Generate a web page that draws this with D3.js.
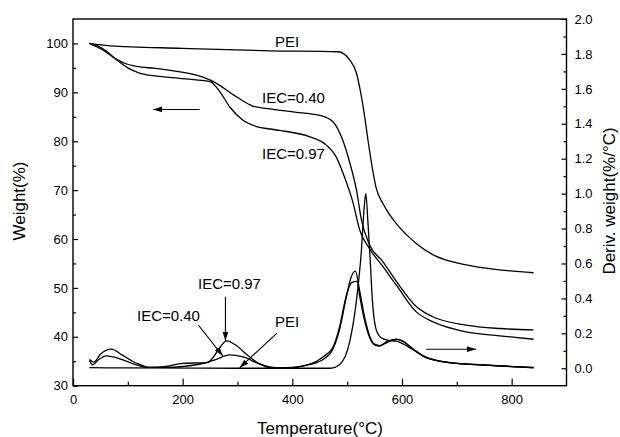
<!DOCTYPE html>
<html lang="en">
<head>
<meta charset="UTF-8">
<title>TGA / DTG</title>
<script src="https://cdn.jsdelivr.net/npm/d3@7/dist/d3.min.js"></script>
<style>
  body { margin: 0; background: #fff; }
  svg { display: block; font-family: "Liberation Sans", Arial, sans-serif; }
  .axis path { display: none; }
  .axis line { stroke: #000; stroke-width: 1.2; }
  .axis text { font-size: 13px; fill: #000; }
  .frame { fill: none; stroke: #000; stroke-width: 1.4; }
  .curve { fill: none; stroke: #000; stroke-width: 1.3; }
  .note { font-size: 15px; fill: #000; }
  .title { font-size: 17px; fill: #000; }
  .arrow { stroke: #000; stroke-width: 1.1; }
</style>
</head>
<body>
<svg id="chart" width="620" height="437"></svg>
<script>
  // ticks
  const xTicks = [0, 200, 400, 600, 800]
  const xMinor = [100, 300, 500, 700]
  const wTicks = [30, 40, 50, 60, 70, 80, 90, 100]
  const wMinor = [35, 45, 55, 65, 75, 85, 95]
  const dTicks = [0, 0.2, 0.4, 0.6, 0.8, 1.0, 1.2, 1.4, 1.6, 1.8, 2.0]
  const dMinor = [0.1, 0.3, 0.5, 0.7, 0.9, 1.1, 1.3, 1.5, 1.7, 1.9]

  // weight curves (temperature, weight %)
  const tgaPEI = [[30,100],[67,99.5],[200,99.0],[359,98.5],[483,98.3],[505,96.6],[517,93.9],[526,89.1],
    [532,85.0],[538,80.2],[547,73.8],[553,70.4],[565,67.3],[575,65.4],[590,63.1],[610,60.7],[626,59.1],
    [656,56.8],[717,54.7],[778,53.7],[840,53.1]]
  const tga040 = [[30,100],[55,98.6],[75,97.1],[95,95.9],[116,95.3],[150,94.9],[177,94.5],[225,93.5],
    [256,92.2],[298,89.1],[328,87.2],[359,86.6],[401,86.0],[450,85.3],[474,84.0],[492,80.2],[505,75.5],
    [517,70.0],[526,63.9],[541,58.8],[565,55.4],[590,51.3],[626,46.2],[656,44.1],[717,42.4],[778,41.7],
    [840,41.4]]
  const tga097 = [[30,100],[45,99.5],[60,98.5],[80,96.6],[100,95.0],[120,94.0],[146,93.4],[180,93.0],
    [220,92.6],[250,92.2],[268,90.1],[286,87.0],[310,84.3],[335,83.0],[359,82.5],[377,82.2],[432,80.9],
    [462,79.2],[480,76.8],[495,72.7],[511,67.3],[523,61.8],[541,58.0],[565,54.4],[590,50.5],[626,45.1],
    [656,43.1],[717,41.0],[778,40.2],[840,39.5]]

  // derivative curves (temperature, %/°C)
  const dtgPEI = [[30,0.003],[100,0.002],[300,0.0],[470,0.0],[486,0.02],[505,0.157],[517,0.39],[526,0.675],
    [531,0.92],[534,1.0],[538,0.83],[542,0.62],[546,0.39],[553,0.22],[562,0.175],[575,0.16],[590,0.155],
    [610,0.125],[640,0.07],[680,0.035],[750,0.018],[840,0.005]]
  const dtg040 = [[30,0.045],[36,0.02],[45,0.045],[61,0.071],[80,0.06],[110,0.025],[140,0.005],[170,0.005],
    [200,0.01],[240,0.03],[260,0.05],[286,0.077],[310,0.065],[340,0.025],[370,0.003],[400,0.005],[430,0.02],
    [456,0.05],[474,0.11],[486,0.22],[498,0.4],[507,0.52],[515,0.556],[523,0.44],[532,0.29],[541,0.185],
    [550,0.138],[559,0.13],[574,0.155],[590,0.165],[602,0.152],[620,0.108],[644,0.06],[687,0.032],
    [747,0.019],[840,0.003]]
  const dtg097 = [[30,0.05],[38,0.035],[50,0.08],[70,0.109],[90,0.075],[115,0.03],[140,0.005],[170,0.01],
    [200,0.028],[245,0.032],[255,0.06],[268,0.12],[280,0.157],[298,0.13],[316,0.08],[340,0.025],[359,0.003],
    [389,0.0],[432,0.023],[456,0.065],[474,0.12],[486,0.235],[498,0.41],[508,0.49],[518,0.497],[523,0.41],
    [532,0.27],[541,0.176],[550,0.134],[559,0.127],[574,0.15],[590,0.167],[602,0.155],[620,0.112],
    [644,0.062],[687,0.032],[747,0.019],[840,0.002]]

  const margin = {left: 73, right: 566.5, top: 19, bottom: 385.7}
  const svg = d3.select('#chart')

  const x = d3.scaleLinear().domain([0, 900]).range([margin.left, margin.right])
  const yW = d3.scaleLinear().domain([30, 105]).range([margin.bottom, margin.top])
  const yD = d3.scaleLinear().domain([-0.1, 2.0]).range([margin.bottom, margin.top])

  const defs = svg.append('defs')
  defs.append('marker')
    .attr('id', 'head')
    .attr('viewBox', '0 0 10 10')
    .attr('refX', 10).attr('refY', 5)
    .attr('markerWidth', 9).attr('markerHeight', 9)
    .attr('markerUnits', 'userSpaceOnUse')
    .attr('orient', 'auto')
    .append('path').attr('d', 'M0,1.8L10,5L0,8.2Z').attr('fill', '#000')

  // axes (ticks inward)
  svg.append('g').attr('class', 'axis')
    .attr('transform', `translate(0,${margin.bottom})`)
    .call(d3.axisBottom(x).tickValues(xTicks).tickSize(-7).tickPadding(9))
  svg.append('g').attr('class', 'axis')
    .attr('transform', `translate(0,${margin.bottom})`)
    .call(d3.axisBottom(x).tickValues(xMinor).tickSize(-4).tickFormat(''))

  svg.append('g').attr('class', 'axis')
    .attr('transform', `translate(${margin.left},0)`)
    .call(d3.axisLeft(yW).tickValues(wTicks).tickSize(-5).tickPadding(5))
  svg.append('g').attr('class', 'axis')
    .attr('transform', `translate(${margin.left},0)`)
    .call(d3.axisLeft(yW).tickValues(wMinor).tickSize(-3).tickFormat(''))

  svg.append('g').attr('class', 'axis')
    .attr('transform', `translate(${margin.right},0)`)
    .call(d3.axisRight(yD).tickValues(dTicks).tickSize(-5).tickPadding(8).tickFormat(d3.format('.1f')))
  svg.append('g').attr('class', 'axis')
    .attr('transform', `translate(${margin.right},0)`)
    .call(d3.axisRight(yD).tickValues(dMinor).tickSize(-3).tickFormat(''))

  svg.append('rect').attr('class', 'frame')
    .attr('x', margin.left).attr('y', margin.top)
    .attr('width', margin.right - margin.left)
    .attr('height', margin.bottom - margin.top)

  // curves
  const lineW = d3.line().x(d => x(d[0])).y(d => yW(d[1])).curve(d3.curveMonotoneX)
  const lineD = d3.line().x(d => x(d[0])).y(d => yD(d[1])).curve(d3.curveMonotoneX)
  ;[tgaPEI, tga040, tga097].forEach(s => {
    svg.append('path').attr('class', 'curve').attr('d', lineW(s))
  })
  ;[dtgPEI, dtg040, dtg097].forEach(s => {
    svg.append('path').attr('class', 'curve').attr('d', lineD(s))
  })

  // labels
  const note = (t, px, py, anchor) => svg.append('text').attr('class', 'note')
    .attr('x', px).attr('y', py).attr('text-anchor', anchor || 'start').text(t)
  note('PEI', 287, 47, 'middle')
  note('IEC=0.40', 262, 103)
  note('IEC=0.97', 262, 159)
  note('IEC=0.97', 198, 289)
  note('IEC=0.40', 137, 320.5)
  note('PEI', 275, 327)

  const arrow = (x1, y1, x2, y2) => svg.append('line').attr('class', 'arrow')
    .attr('x1', x1).attr('y1', y1).attr('x2', x2).attr('y2', y2)
    .attr('marker-end', 'url(#head)')
  // which axis each set of curves uses
  arrow(x(231), yW(86.5), x(146), yW(86.5))
  arrow(x(644), yD(0.109), x(735), yD(0.109))
  // pointers to the small derivative peaks
  arrow(x(278), 296.7, x(278), yD(0.157))
  arrow(198.3, 325, x(273), yD(0.071))
  arrow(276.7, 333.3, x(304), yD(0.003))

  // axis titles
  svg.append('text').attr('class', 'title')
    .attr('transform', 'translate(25,201) rotate(-90)')
    .attr('text-anchor', 'middle').text('Weight(%)')
  svg.append('text').attr('class', 'title')
    .attr('x', 320).attr('y', 434)
    .attr('text-anchor', 'middle').text('Temperature(°C)')
  svg.append('text').attr('class', 'title')
    .attr('transform', 'translate(615,201) rotate(-90)')
    .attr('text-anchor', 'middle').text('Deriv. weight(%/°C)')
</script>
</body>
</html>
